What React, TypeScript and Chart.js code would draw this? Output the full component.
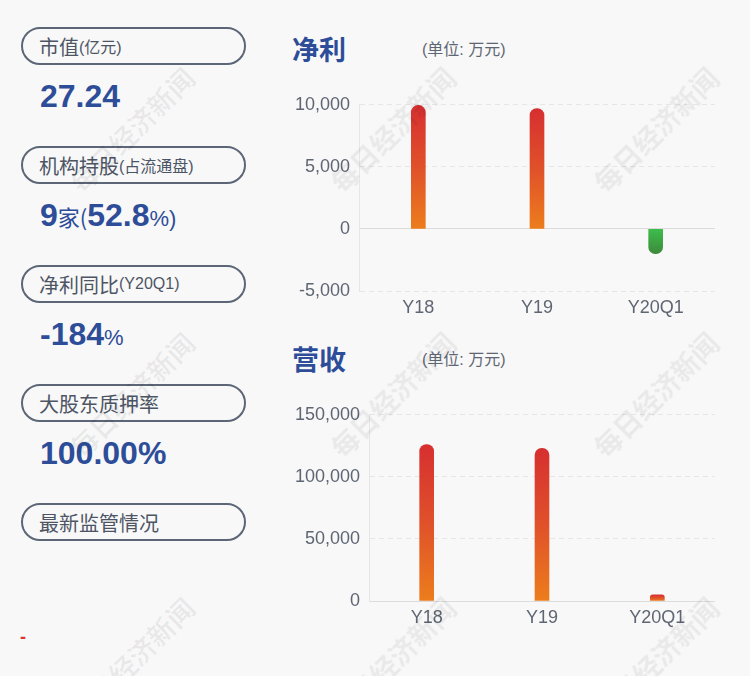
import React, { useEffect, useRef } from "react";
import { Chart, registerables } from "chart.js";

Chart.register(...registerables);

// ---- data ----
const categories = ["Y18", "Y19", "Y20Q1"];
const netProfit = [9950, 9700, -2000]; // 万元
const revenue = [126000, 123000, 5000]; // 万元
const netProfitTicks = { min: -5000, max: 10000, step: 5000 };
const revenueTicks = { min: 0, max: 150000, step: 50000 };

const infoLabels = [
  { main: "市值", sub: "(亿元)" },
  { main: "机构持股", sub: "(占流通盘)" },
  { main: "净利同比", sub: "(Y20Q1)" },
  { main: "大股东质押率", sub: "" },
  { main: "最新监管情况", sub: "" },
];

const FONT = '"Liberation Sans", Arial, "Noto Sans CJK SC", sans-serif';
const CJK = '"Noto Sans CJK SC", "Liberation Sans", sans-serif';
const BLUE = "#2e4d99";
const GRAY_TEXT = "#5f6673";

function barColor(ctx: any) {
  const chart = ctx.chart;
  const ys = chart.scales && chart.scales.y;
  const v = ctx.raw as number;
  if (!ys || typeof v !== "number") return "#e04a2a";
  const top = ys.getPixelForValue(Math.max(v, 0));
  const bot = ys.getPixelForValue(Math.min(v, 0));
  if (!isFinite(top) || !isFinite(bot) || bot - top < 1) return v < 0 ? "#3caa46" : "#e04a2a";
  const g = chart.ctx.createLinearGradient(0, top, 0, bot);
  if (v >= 0) {
    g.addColorStop(0, "#d62f30");
    g.addColorStop(0.5, "#e0512a");
    g.addColorStop(1, "#ec7d1c");
  } else {
    g.addColorStop(0, "#3dbd4c");
    g.addColorStop(1, "#3d8a3b");
  }
  return g;
}

function makeConfig(values: number[], tk: { min: number; max: number; step: number }, yWidth: number): any {
  return {
    type: "bar",
    data: {
      labels: categories,
      datasets: [
        {
          data: values,
          backgroundColor: barColor,
          barThickness: 14,
          borderRadius: 7,
          borderSkipped: "start",
        },
      ],
    },
    options: {
      responsive: false,
      animation: false,
      devicePixelRatio: 1,
      layout: { padding: { top: 18.5, right: 5, left: 0, bottom: 0 } },
      plugins: { legend: { display: false }, tooltip: { enabled: false } },
      scales: {
        x: {
          grid: { display: false, drawTicks: false },
          border: { display: false },
          ticks: { color: GRAY_TEXT, font: { family: FONT, size: 18 }, padding: 6 },
          afterFit: (s: any) => {
            s.height = 34;
          },
        },
        y: {
          min: tk.min,
          max: tk.max,
          grid: {
            drawTicks: false,
            color: (c: any) => (c.tick && c.tick.value === 0 ? "#dcdcdc" : "#e6e6e6"),
            lineWidth: 1,
          },
          border: {
            display: true,
            color: "#e6e6e6",
            dash: (c: any) => (c.tick && c.tick.value !== 0 ? [5, 4] : []),
          },
          ticks: {
            stepSize: tk.step,
            color: GRAY_TEXT,
            padding: 9,
            font: { family: FONT, size: 18 },
            callback: (v: any) => Number(v).toLocaleString("en-US"),
          },
          afterFit: (s: any) => {
            s.width = yWidth;
          },
        },
      },
    },
  };
}

function BarChart({ values, tk, yWidth, left, top }: any) {
  const ref = useRef<HTMLCanvasElement | null>(null);
  useEffect(() => {
    if (!ref.current) return;
    const chart = new Chart(ref.current, makeConfig(values, tk, yWidth));
    return () => chart.destroy();
  }, []);
  return (
    <canvas
      ref={ref}
      width={440}
      height={240}
      style={{ position: "absolute", left, top, width: 440, height: 240 }}
    />
  );
}

const watermarkCentersX = [132, 393, 656];
const watermarkCentersY = [130, 395, 660];

export default function App() {
  const boxTops = [27, 146, 265, 384, 503];
  const valueTops = [80, 199, 318, 437];
  const big = { fontFamily: FONT, fontWeight: 700, fontSize: 32, color: BLUE } as const;
  const small = { fontFamily: CJK, fontWeight: 400, fontSize: 22, color: BLUE } as const;
  const values = [
    <span style={big}>27.24</span>,
    <span>
      <span style={big}>9</span>
      <span style={small}>家(</span>
      <span style={big}>52.8</span>
      <span style={{ ...small, fontFamily: FONT }}>%)</span>
    </span>,
    <span>
      <span style={big}>-184</span>
      <span style={{ ...small, fontFamily: FONT }}>%</span>
    </span>,
    <span style={big}>100.00%</span>,
  ];
  return (
    <div
      style={{
        position: "fixed",
        left: 0,
        top: 0,
        width: 750,
        height: 676,
        background: "#f8f8f8",
        overflow: "hidden",
        fontFamily: FONT,
      }}
    >
      {infoLabels.map((l, i) => (
        <div
          key={i}
          style={{
            position: "absolute",
            left: 21,
            top: boxTops[i],
            width: 225,
            height: 38,
            boxSizing: "border-box",
            border: "2px solid #5c6677",
            borderRadius: 19,
            display: "flex",
            alignItems: "center",
            paddingLeft: 16,
            color: "#4d5565",
            whiteSpace: "nowrap",
          }}
        >
          <span style={{ fontFamily: CJK, fontSize: 20 }}>{l.main}</span>
          {l.sub ? <span style={{ fontFamily: FONT, fontSize: 16 }}>{l.sub}</span> : null}
        </div>
      ))}
      {values.map((v, i) => (
        <div
          key={"v" + i}
          style={{ position: "absolute", left: 40, top: valueTops[i], lineHeight: "32px", whiteSpace: "nowrap" }}
        >
          {v}
        </div>
      ))}
      <div
        style={{
          position: "absolute",
          left: 20,
          top: 628,
          fontSize: 18,
          lineHeight: "18px",
          fontWeight: 700,
          color: "#e03131",
          fontFamily: FONT,
        }}
      >
        -
      </div>

      {/* titles */}
      <div style={{ position: "absolute", left: 292, top: 35, fontFamily: CJK, fontWeight: 700, fontSize: 27, lineHeight: "27px", color: BLUE }}>
        净利
      </div>
      <div style={{ position: "absolute", left: 422, top: 40, fontFamily: FONT, fontSize: 16, lineHeight: "20px", color: GRAY_TEXT }}>
        (单位: 万元)
      </div>
      <div style={{ position: "absolute", left: 292, top: 345, fontFamily: CJK, fontWeight: 700, fontSize: 27, lineHeight: "27px", color: BLUE }}>
        营收
      </div>
      <div style={{ position: "absolute", left: 422, top: 350, fontFamily: FONT, fontSize: 16, lineHeight: "20px", color: GRAY_TEXT }}>
        (单位: 万元)
      </div>

      <BarChart values={netProfit} tk={netProfitTicks} yWidth={79} left={280} top={85} />
      <BarChart values={revenue} tk={revenueTicks} yWidth={89} left={280} top={395} />

      {watermarkCentersY.map((cy) =>
        watermarkCentersX.map((cx) => (
          <div
            key={cx + "-" + cy}
            style={{
              position: "absolute",
              left: cx - 90,
              top: cy - 16,
              width: 180,
              height: 32,
              lineHeight: "32px",
              textAlign: "center",
              transform: "rotate(-45deg)",
              fontFamily: CJK,
              fontWeight: 700,
              fontSize: 27,
              color: "rgba(0,0,0,0.06)",
              whiteSpace: "nowrap",
              pointerEvents: "none",
            }}
          >
            每日经济新闻
          </div>
        ))
      )}
    </div>
  );
}
